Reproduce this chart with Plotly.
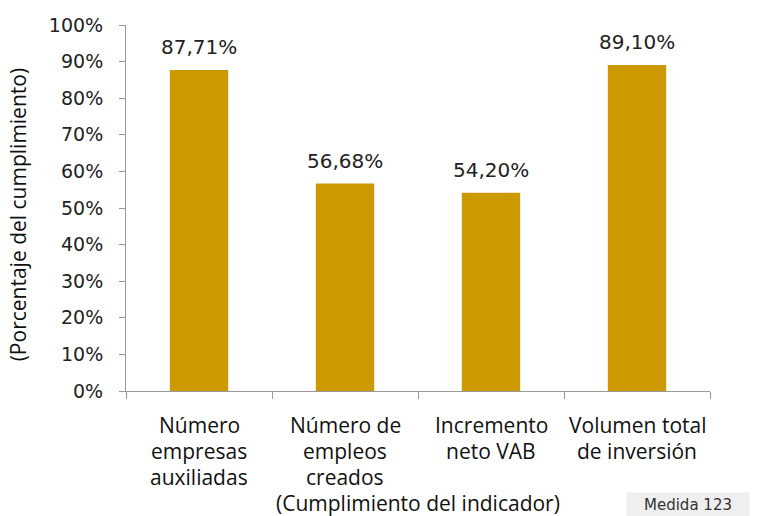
import plotly.graph_objects as go

categories = ["Número<br>empresas<br>auxiliadas", "Número de<br>empleos<br>creados",
              "Incremento<br>neto VAB", "Volumen total<br>de inversión"]
values = [87.71, 56.68, 54.20, 89.10]
value_labels = ["87,71%", "56,68%", "54,20%", "89,10%"]
y_ticks = [0, 10, 20, 30, 40, 50, 60, 70, 80, 90, 100]
y_tick_labels = [f"{t}%" for t in y_ticks]
x_title = "(Cumplimiento del indicador)"
y_title = "(Porcentaje del cumplimiento)"
note = "Medida 123"

x_pos = list(range(len(categories)))
LABEL_FONT = "Open Sans"

fig = go.Figure()
fig.add_trace(go.Bar(
    x=x_pos, y=values, marker=dict(color="#CC9900", line=dict(width=0)),
    width=0.4, hoverinfo="skip",
))

annotations = []
for i, (v, t) in enumerate(zip(values, value_labels)):
    annotations.append(dict(
        x=i, xref="x", y=v, yref="y", yshift=9, text=t, showarrow=False,
        xanchor="center", yanchor="bottom",
        font=dict(family="DejaVu Sans", size=20, color="#222222"),
    ))
for i, lab in enumerate(categories):
    for j, ln in enumerate(lab.split("<br>")):
        annotations.append(dict(
            x=i, xref="x", y=0, yref="paper", yshift=-34 - 26 * j,
            text=ln, showarrow=False, xanchor="center", yanchor="middle",
            font=dict(family=LABEL_FONT, size=21, color="#111111"),
        ))
annotations.append(dict(
    x=0.5, xref="paper", y=0, yref="paper", yshift=-112,
    text=x_title, showarrow=False, xanchor="center", yanchor="middle",
    font=dict(family=LABEL_FONT, size=21, color="#111111"),
))
annotations.append(dict(
    x=-0.5, xref="x", xshift=-108, y=48, yref="y",
    text=y_title, showarrow=False, textangle=-90,
    xanchor="center", yanchor="middle",
    font=dict(family=LABEL_FONT, size=21, color="#111111"),
))
annotations.append(dict(
    x=(626 - 126) / 584, xref="paper", xanchor="left", y=0, yref="paper", yshift=-114,
    text=note, showarrow=False, yanchor="middle",
    bgcolor="#EFEFEF", borderpad=3, width=116, height=18,
    font=dict(family="DejaVu Sans", size=15, color="#333333"),
))

fig.update_layout(
    width=758, height=516,
    margin=dict(l=126, r=48, t=25, b=125),
    paper_bgcolor="white", plot_bgcolor="white",
    showlegend=False,
    annotations=annotations,
    xaxis=dict(
        range=[-0.5, 3.5], tickmode="array", tickvals=[-0.5, 0.5, 1.5, 2.5, 3.5],
        ticktext=["", "", "", "", ""], ticks="outside", ticklen=7, tickcolor="#999999",
        showline=True, linecolor="#999999", linewidth=1, showgrid=False, zeroline=False,
        fixedrange=True,
    ),
    yaxis=dict(
        range=[0, 100], tickmode="array", tickvals=y_ticks, ticktext=y_tick_labels,
        ticks="outside", ticklen=6, tickcolor="#999999", ticklabelstandoff=12,
        showline=True, linecolor="#999999", linewidth=1, showgrid=False, zeroline=False,
        tickfont=dict(family="DejaVu Sans", size=19, color="#222222"),
        automargin=False, fixedrange=True,
    ),
)

fig.write_html("out.html", post_script="document.body.style.margin='0';",
               config={"displayModeBar": False})
